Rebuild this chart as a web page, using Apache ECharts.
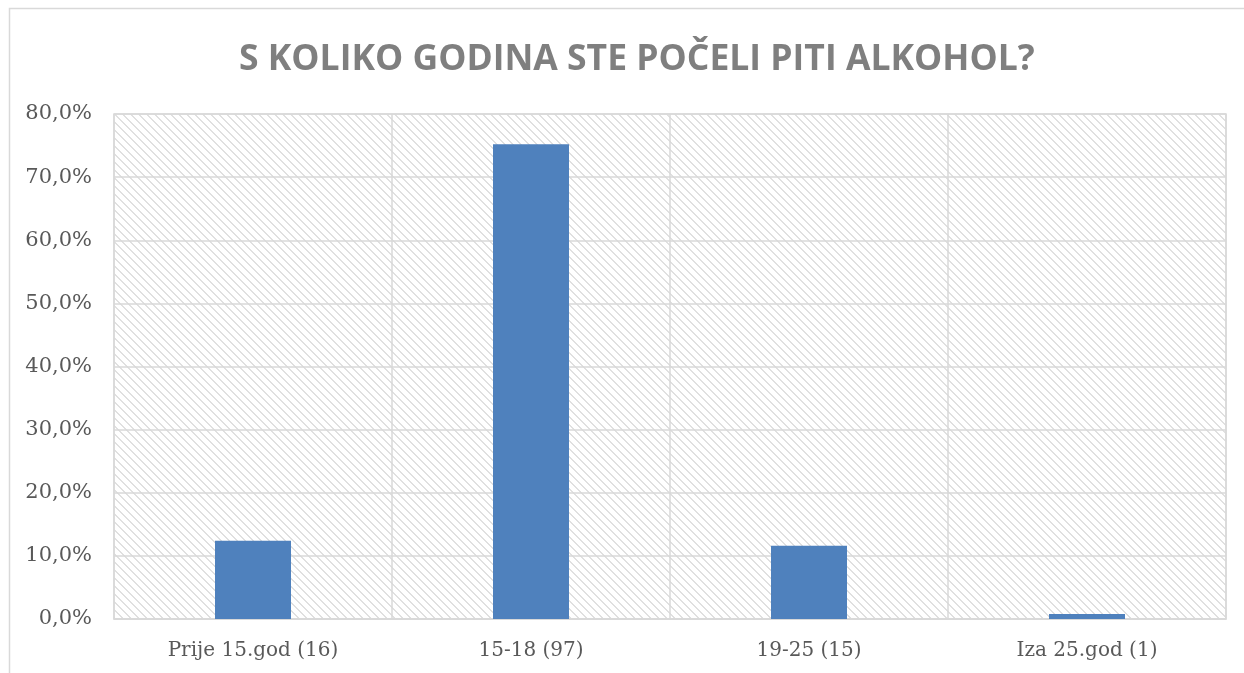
<!DOCTYPE html>
<html>
<head>
<meta charset="utf-8">
<script src="https://cdn.jsdelivr.net/npm/echarts@6/dist/echarts.min.js"></script>
<style>
  html, body { margin: 0; padding: 0; background: #fff; }
  #main { width: 1244px; height: 673px; }
</style>
</head>
<body>
<div id="main"></div>
<script>
var categories = ['Prije 15.god (16)', '15-18 (97)', '19-25 (15)', 'Iza 25.god (1)'];
var percents = [12.4, 75.2, 11.6, 0.8];
var yTicks = { min: 0, max: 80, step: 10 };

// diagonal hatch for the plot area
var hatch = document.createElement('canvas');
hatch.width = 8;
hatch.height = 8;
var hctx = hatch.getContext('2d');
hctx.fillStyle = '#ffffff';
hctx.fillRect(0, 0, 8, 8);
hctx.fillStyle = '#e0e0e0';
for (var i = 0; i < 8; i++) {
  hctx.fillRect(i, i, 1, 1);
  hctx.fillRect((i + 1) % 8, i, 1, 1);
}

var chart = echarts.init(document.getElementById('main'));
var option = {
  animation: false,
  title: {
    text: 'S KOLIKO GODINA STE POČELI PITI ALKOHOL?',
    left: 234,
    top: 37,
    textStyle: {
      fontFamily: 'Open Sans',
      fontWeight: 'bold',
      fontSize: 35.5,
      color: '#7f7f7f'
    }
  },
  graphic: [{
    type: 'rect',
    shape: { x: 9.5, y: 8.5, width: 1260, height: 700 },
    style: { fill: 'none', stroke: '#d9d9d9', lineWidth: 1.5 },
    silent: true
  }],
  grid: {
    left: 114,
    top: 114,
    right: 18,
    bottom: 54,
    show: true,
    backgroundColor: { image: hatch, repeat: 'repeat' },
    borderColor: '#d9d9d9',
    borderWidth: 1.5
  },
  xAxis: {
    type: 'category',
    data: categories,
    axisLine: { show: true, lineStyle: { color: '#d9d9d9', width: 1.5 } },
    axisTick: { show: false },
    splitLine: { show: true, lineStyle: { color: '#d9d9d9', width: 1.5 } },
    axisLabel: {
      fontFamily: 'DejaVu Serif',
      fontSize: 20,
      color: '#595959',
      margin: 22
    }
  },
  yAxis: {
    type: 'value',
    min: yTicks.min,
    max: yTicks.max,
    interval: yTicks.step,
    axisLine: { show: false },
    axisTick: { show: false },
    splitLine: { lineStyle: { color: '#d9d9d9', width: 1.5 } },
    axisLabel: {
      fontFamily: 'DejaVu Serif',
      fontSize: 21,
      color: '#595959',
      margin: 22,
      formatter: function (v) {
        return v.toFixed(1).replace('.', ',') + '%';
      }
    }
  },
  series: [{
    type: 'bar',
    data: percents,
    barWidth: 76,
    itemStyle: { color: '#4f81bd' }
  }]
};
chart.setOption(option);
</script>
</body>
</html>
